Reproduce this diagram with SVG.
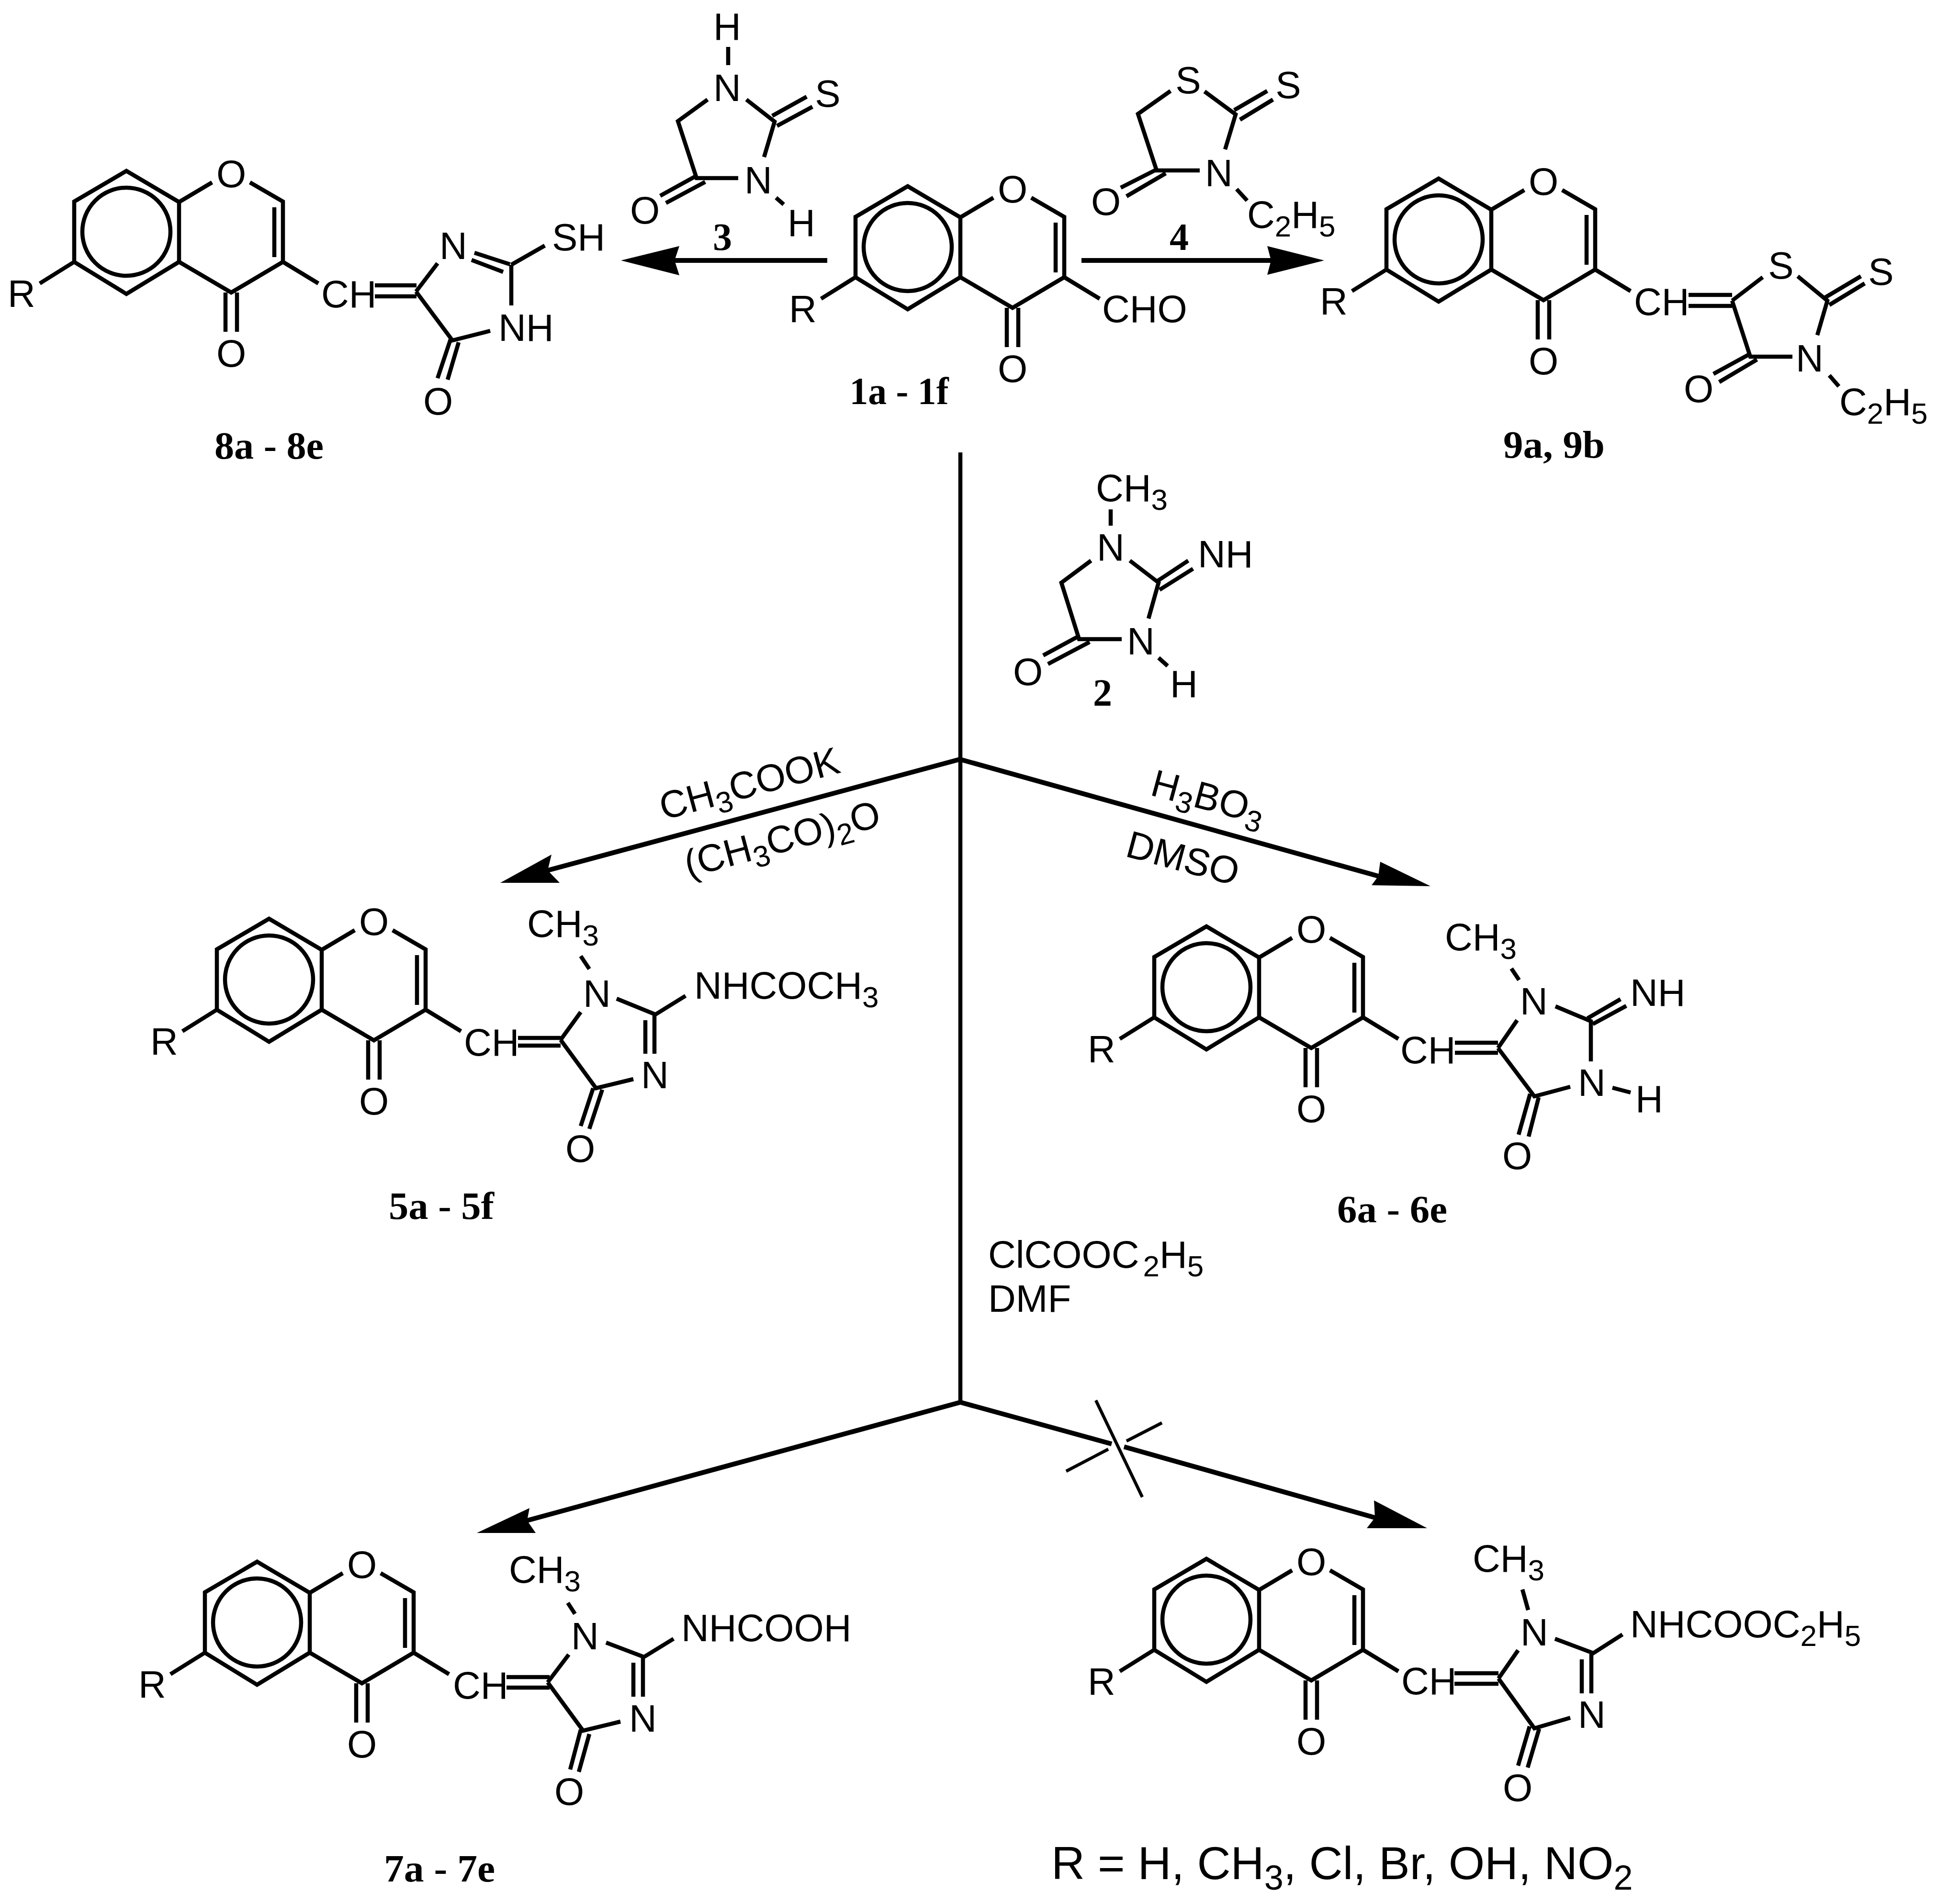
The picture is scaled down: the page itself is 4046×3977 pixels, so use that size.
<svg xmlns="http://www.w3.org/2000/svg" xmlns:xlink="http://www.w3.org/1999/xlink" width="4046" height="3977" viewBox="0 0 4046 3977">
<style>
.b{fill:none;stroke:#000;stroke-width:8.5}
.t{fill:none;stroke:#000;stroke-width:10}
.c{fill:none;stroke:#000;stroke-width:8.5}
.x{fill:none;stroke:#000;stroke-width:6.5}
.h{fill:#000;stroke:none}
text{fill:#000;font-family:"Liberation Sans",Arial,sans-serif;font-size:80px}
.a{text-anchor:middle}
.l{font-family:"Liberation Serif","Times New Roman",serif;font-size:80px;font-weight:700;text-anchor:middle}
.s{font-size:62px}
.big{font-size:97px}
.bs{font-size:72px}
</style>
<defs>
<g id="core">
<path class="b" d="M1787 453L1896 389L2006 454V579L1896 646L1787 579ZM2006 454L2075 413M2154 413L2223 453V579L2115 643L2006 579M2205 465V569M2103 643V725M2127 643V725M2223 579L2297 624M1787 579L1715 624"/>
<circle class="c" cx="1896" cy="516" r="92"/>
</g>
</defs>
<rect width="4046" height="3977" fill="#fff"/>

<g id="connectors">
<path class="b" d="M2006 945V2929"/>
<path class="t" d="M2005 1586L1144 1818M2005 1586L2879 1830M2006 2929L1101 3176M2006 2929L2322 3016M2348 3022L2872 3170M1728 544H1409M2259 544H2655"/>
<path class="x" d="M2289 2925L2386 3127M2427 2972L2353 3010M2315 3027L2227 3073"/>
<polygon class="h" points="1297,544 1419,514 1409,544 1419,575"/>
<polygon class="h" points="2766,544 2647,514 2655,544 2647,574"/>
<polygon class="h" points="1045,1844 1152,1785 1144,1818 1169,1844"/>
<polygon class="h" points="2988,1851 2883,1800 2879,1830 2865,1849"/>
<polygon class="h" points="996,3202 1106,3150 1101,3176 1119,3202"/>
<polygon class="h" points="2981,3192 2870,3134 2872,3170 2855,3192"/>
</g>

<g id="labels">
<text class="l" x="1509" y="522">3</text>
<text class="l" x="2463" y="522">4</text>
<text x="1386" y="1713" transform="rotate(-15 1386 1713)">CH<tspan class="s" dy="18">3</tspan><tspan dy="-18">COOK</tspan></text>
<text x="1438" y="1833" transform="rotate(-15 1438 1833)">(CH<tspan class="s" dy="18">3</tspan><tspan dy="-18">CO)</tspan><tspan class="s" dy="18">2</tspan><tspan dy="-18">O</tspan></text>
<text x="2400" y="1660" transform="rotate(15 2400 1660)">H<tspan class="s" dy="18">3</tspan><tspan dy="-18">BO</tspan><tspan class="s" dy="18">3</tspan></text>
<text x="2348" y="1788" transform="rotate(15 2348 1788)">DMSO</text>
<text x="2064" y="2648">ClCOOC<tspan class="s" dy="18" dx="8">2</tspan><tspan dy="-18">H</tspan><tspan class="s" dy="18">5</tspan></text>
<text x="2064" y="2740">DMF</text>
<text class="big" x="2196" y="3925">R = H, CH<tspan class="bs" dy="22">3</tspan><tspan dy="-22">, Cl, Br, OH, NO</tspan><tspan class="bs" dy="22">2</tspan></text>
</g>

<g id="node-1">
<use href="#core"/>
<text class="a" x="2115" y="423">O</text><text class="a" x="2115" y="798">O</text><text x="1648" y="673">R</text>
<text x="2302" y="673">CHO</text>
<text class="l" x="1878" y="844" textLength="207" lengthAdjust="spacingAndGlyphs">1a - 1f</text>
</g>

<g id="node-3">
<path class="b" d="M1521 98V136M1478 208L1416 253L1455 372H1542M1559 208L1618 254L1596 328M1613 242L1685 202M1623 263L1697 223M1455 367L1379 409M1473 380L1391 424M1621 413L1637 427"/>
<text class="a" x="1519" y="83">H</text><text class="a" x="1519" y="211">N</text><text class="a" x="1729" y="223">S</text><text class="a" x="1584" y="404">N</text><text class="a" x="1347" y="467">O</text><text class="a" x="1674" y="493">H</text>
</g>

<g id="node-4">
<path class="b" d="M2445 190L2377 238L2416 356H2506M2516 191L2581 239L2559 312M2578 230L2647 190M2590 250L2659 208M2416 354L2341 392M2435 362L2353 410M2583 395L2605 419"/>
<text class="a" x="2482" y="195">S</text><text class="a" x="2691" y="205">S</text><text class="a" x="2546" y="389">N</text><text class="a" x="2310" y="449">O</text>
<text x="2605" y="476">C<tspan class="s" dy="18">2</tspan><tspan dy="-18">H</tspan><tspan class="s" dy="18">5</tspan></text>
</g>

<g id="node-2">
<path class="b" d="M2320 1064V1098M2279 1171L2217 1217L2254 1335H2343M2360 1171L2420 1217L2399 1292M2417 1214L2482 1171M2422 1232L2492 1188M2420 1374L2439 1391M2251 1330L2179 1369M2276 1341L2189 1387"/>
<text x="2289" y="1047">CH<tspan class="s" dy="18">3</tspan></text>
<text class="a" x="2320" y="1171">N</text><text x="2502" y="1185">NH</text><text class="a" x="2383" y="1367">N</text><text class="a" x="2473" y="1456">H</text><text class="a" x="2147" y="1431">O</text>
<text class="l" x="2303" y="1474">2</text>
</g>

<g id="node-8">
<use href="#core" transform="translate(-1632 -32)"/>
<text class="a" x="483" y="391">O</text><text class="a" x="483" y="766">O</text><text x="16" y="641">R</text>
<path class="b" d="M783 596H870M783 619H870M869 609L914 550M869 609L945 711L1024 691M991 528L1065 552M985 543L1051 568M1068 553L1138 513M1068 553V638M941 709L914 790M958 715L935 793"/>
<text x="671" y="642">CH</text><text class="a" x="947" y="541">N</text><text x="1153" y="523">SH</text><text x="1041" y="712">NH</text><text class="a" x="915" y="866">O</text>
<text class="l" x="562" y="958" textLength="228" lengthAdjust="spacingAndGlyphs">8a - 8e</text>
</g>

<g id="node-9">
<use href="#core" transform="translate(1109 -16)"/>
<text class="a" x="3224" y="407">O</text><text class="a" x="3224" y="782">O</text><text x="2757" y="657">R</text>
<path class="b" d="M3527 616H3618M3527 639H3618M3618 628L3682 579M3618 628L3656 745H3744M3755 577L3817 628L3796 700M3813 621L3887 577M3821 637L3895 592M3654 740L3579 781M3670 751L3591 798M3821 784L3841 807"/>
<text x="3413" y="658">CH</text><text class="a" x="3720" y="582">S</text><text class="a" x="3929" y="595">S</text><text class="a" x="3780" y="776">N</text><text class="a" x="3548" y="840">O</text>
<text x="3842" y="867">C<tspan class="s" dy="18">2</tspan><tspan dy="-18">H</tspan><tspan class="s" dy="18">5</tspan></text>
<text class="l" x="3246" y="956" textLength="212" lengthAdjust="spacingAndGlyphs">9a, 9b</text>
</g>

<g id="node-5">
<use href="#core" transform="translate(-1334 1530)"/>
<text class="a" x="781" y="1953">O</text><text class="a" x="781" y="2328">O</text><text x="314" y="2203">R</text>
<path class="b" d="M1082 2168H1171M1082 2184H1171M1171 2172L1213 2114M1171 2172L1245 2273L1323 2254M1213 1997L1231 2024M1288 2086L1369 2119L1432 2080M1367 2119V2201M1348 2131V2201M1239 2273L1213 2352M1258 2276L1231 2358"/>
<text x="969" y="2205">CH</text><text x="1101" y="1957">CH<tspan class="s" dy="18">3</tspan></text><text class="a" x="1247" y="2103">N</text><text class="a" x="1368" y="2273">N</text>
<text x="1450" y="2086">NHCOCH<tspan class="s" dy="18">3</tspan></text><text class="a" x="1212" y="2427">O</text>
<text class="l" x="922" y="2546" textLength="220" lengthAdjust="spacingAndGlyphs">5a - 5f</text>
</g>

<g id="node-6">
<use href="#core" transform="translate(624 1546)"/>
<text class="a" x="2739" y="1969">O</text><text class="a" x="2739" y="2344">O</text><text x="2272" y="2219">R</text>
<path class="b" d="M3039 2178H3129M3039 2199H3129M3129 2189L3169 2131M3129 2189L3205 2290L3280 2270M3157 2023L3173 2047M3249 2102L3323 2133V2217M3316 2127L3385 2087M3327 2139L3397 2101M3368 2272L3406 2282M3196 2285L3172 2370M3214 2292L3193 2374"/>
<text x="2925" y="2221">CH</text><text x="3018" y="1985">CH<tspan class="s" dy="18">3</tspan></text><text class="a" x="3204" y="2119">N</text><text x="3405" y="2101">NH</text><text class="a" x="3325" y="2289">N</text><text class="a" x="3445" y="2323">H</text><text class="a" x="3169" y="2442">O</text>
<text class="l" x="2908" y="2553" textLength="230" lengthAdjust="spacingAndGlyphs">6a - 6e</text>
</g>

<g id="node-7">
<use href="#core" transform="translate(-1359 2873)"/>
<text class="a" x="756" y="3296">O</text><text class="a" x="756" y="3671">O</text><text x="289" y="3546">R</text>
<path class="b" d="M1058 3503H1148M1058 3525H1148M1144 3514L1188 3456M1144 3514L1218 3615L1296 3596M1186 3348L1201 3371M1266 3431L1345 3461L1407 3423M1343 3461V3544M1323 3473V3544M1213 3613L1191 3696M1231 3622L1209 3701"/>
<text x="946" y="3548">CH</text><text x="1063" y="3306">CH<tspan class="s" dy="18">3</tspan></text><text class="a" x="1222" y="3445">N</text><text class="a" x="1343" y="3617">N</text><text x="1423" y="3428">NHCOOH</text><text class="a" x="1189" y="3770">O</text>
<text class="l" x="918" y="3930" textLength="232" lengthAdjust="spacingAndGlyphs">7a - 7e</text>
</g>

<g id="node-10">
<use href="#core" transform="translate(624 2867)"/>
<text class="a" x="2739" y="3290">O</text><text class="a" x="2739" y="3665">O</text><text x="2272" y="3540">R</text>
<path class="b" d="M3038 3495H3130M3038 3517H3130M3130 3506L3171 3447M3130 3506L3205 3610L3280 3588M3180 3320L3192 3363M3248 3423L3328 3453L3389 3414M3324 3455V3537M3304 3466V3537M3195 3606L3171 3688M3215 3611L3191 3692"/>
<text x="2927" y="3539">CH</text><text x="3076" y="3283">CH<tspan class="s" dy="18">3</tspan></text><text class="a" x="3205" y="3437">N</text><text class="a" x="3325" y="3609">N</text>
<text x="3405" y="3420">NHCOOC<tspan class="s" dy="18">2</tspan><tspan dy="-18">H</tspan><tspan class="s" dy="18">5</tspan></text><text class="a" x="3170" y="3762">O</text>
</g>
</svg>
